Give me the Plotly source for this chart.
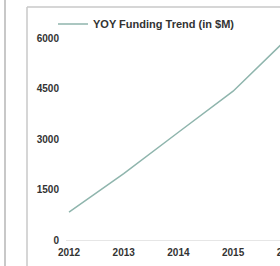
import plotly.graph_objects as go

years = [2012, 2013, 2014, 2015, 2016]
funding = [830, 1970, 3200, 4420, 6000]
y_ticks = [0, 1500, 3000, 4500, 6000]
x_ticks = [2012, 2013, 2014, 2015, 2016]

fig = go.Figure()
fig.add_trace(go.Scatter(
    x=years, y=funding, mode="lines",
    name="YOY Funding Trend (in $M)",
    line=dict(color="#8fb5ad", width=1.5),
))

W, H = 300, 266
L, R, T, B = 66, 0, 30, 26
PW, PH = W - L - R, H - T - B


def px_x(px):
    return (px - L) / PW


def px_y(py):
    return (H - B - py) / PH


fig.update_layout(
    width=W, height=H,
    margin=dict(l=L, r=R, t=T, b=B, pad=0),
    paper_bgcolor="white", plot_bgcolor="white",
    font=dict(family="Liberation Sans, Arial, sans-serif", size=10, color="#333333"),
    showlegend=True,
    legend=dict(x=px_x(53), y=px_y(24), xanchor="left", yanchor="middle",
                font=dict(size=11, color="#333333", weight="bold"),
                bgcolor="rgba(0,0,0,0)", itemwidth=30, tracegroupgap=0),
    xaxis=dict(range=[2011.945, 2016.223], tickvals=x_ticks,
               ticktext=[str(v) for v in x_ticks],
               showgrid=False, zeroline=False, showline=True,
               linecolor="#e6e6e6", linewidth=1, ticks="",
               ticklabelstandoff=3,
               tickfont=dict(size=10, color="#333333", weight="bold")),
    yaxis=dict(range=[0, 6238], tickvals=y_ticks,
               showgrid=False, zeroline=False, showline=False, ticks="",
               ticklabelstandoff=6,
               tickfont=dict(size=10, color="#333333", weight="bold")),
    shapes=[
        dict(type="line", xref="paper", yref="paper",
             x0=px_x(5), x1=px_x(5), y0=px_y(H + 5), y1=px_y(-5),
             line=dict(color="#c8c8c8", width=2)),
        dict(type="line", xref="paper", yref="paper",
             x0=px_x(27), x1=px_x(27), y0=px_y(H + 5), y1=px_y(7),
             line=dict(color="#c8c8c8", width=1.5)),
        dict(type="line", xref="paper", yref="paper",
             x0=px_x(27), x1=px_x(W + 5), y0=px_y(7), y1=px_y(7),
             line=dict(color="#c8c8c8", width=1.5)),
    ],
)

fig.write_html("out.html", config={"displayModeBar": False})
with open("out.html", "r", encoding="utf-8") as f:
    html = f.read()
html = html.replace("<body>", '<body style="margin:0;overflow:hidden">', 1)
with open("out.html", "w", encoding="utf-8") as f:
    f.write(html)
